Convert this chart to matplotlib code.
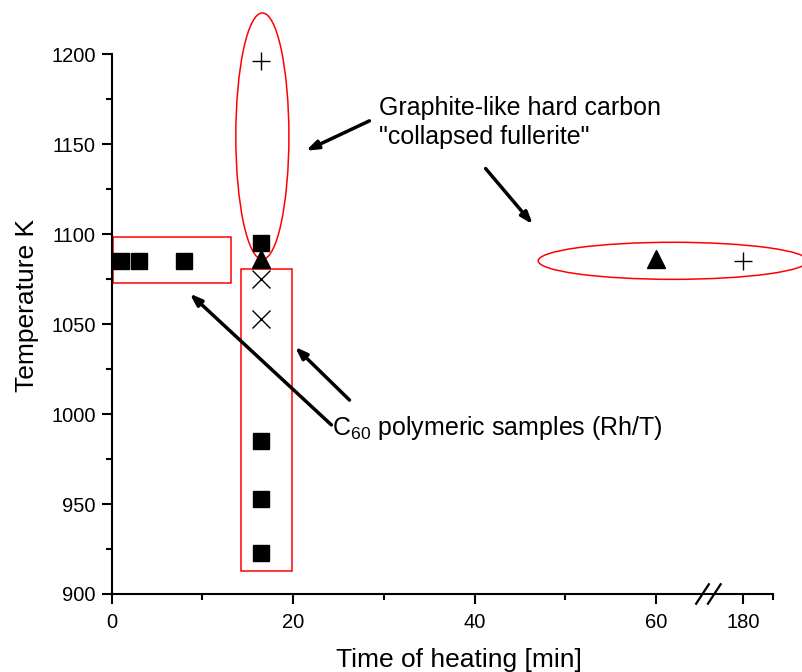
import numpy as np
import matplotlib
matplotlib.use("Agg")
import matplotlib.pyplot as plt
from matplotlib.patches import Ellipse, Rectangle

plt.rcParams['font.family'] = ['Liberation Sans', 'DejaVu Sans']
plt.rcParams['mathtext.fontset'] = 'custom'
plt.rcParams['mathtext.rm'] = 'Liberation Sans'
plt.rcParams['mathtext.it'] = 'Liberation Sans:italic'

# ---- data (time of heating [min], temperature [K]) ----
sq_time = [1, 3, 8, 16.5, 16.5, 16.5, 16.5]
sq_temp = [1085, 1085, 1085, 1095, 985, 953, 923]
tri_time = [16.5, 60]
tri_temp = [1086, 1086]
x_time = [16.5, 16.5]
x_temp = [1075, 1053]
plus_time = [16.5, 180]
plus_temp = [1196, 1085]

xtick_values = [0, 20, 40, 60, 180]
xtick_labels = ['0', '20', '40', '60', '180']
ytick_values = [900, 950, 1000, 1050, 1100, 1150, 1200]

BREAK_POS_180 = 69.6  # axis position where 180 min is drawn (after the break)


def tpos(t):
    t = np.asarray(t, dtype=float)
    return np.where(t > 65, BREAK_POS_180 + (t - 180), t)


fig = plt.figure(figsize=(8.02, 6.72), dpi=100)
ax = fig.add_axes([0.1393, 0.1161, 0.8249, 0.8031])

ax.plot(tpos(sq_time), sq_temp, 's', color='black', ms=11, clip_on=False, zorder=5)
ax.plot(tpos(tri_time), tri_temp, '^', color='black', ms=13, clip_on=False, zorder=5)
ax.plot(tpos(x_time), x_temp, 'x', color='black', ms=13, mew=1.0, clip_on=False, zorder=5)
ax.plot(tpos(plus_time), plus_temp, '+', color='black', ms=13, mew=1.0, clip_on=False, zorder=5)

ax.set_xlim(0, 72.9)
ax.set_ylim(900, 1200)
ax.set_xticks(tpos(xtick_values))
ax.set_xticklabels(xtick_labels)
ax.set_xticks([10, 30, 50, 72.9], minor=True)
ax.set_yticks(ytick_values)
ax.set_yticks(np.arange(925, 1200, 50), minor=True)

for s in ['top', 'right']:
    ax.spines[s].set_visible(False)
for s in ['left', 'bottom']:
    ax.spines[s].set_linewidth(1.5)
ax.tick_params(which='major', direction='out', length=7.5, width=1.5, labelsize=14.5)
ax.tick_params(axis='x', which='major', pad=6)
ax.tick_params(axis='y', which='major', pad=4)
ax.tick_params(which='minor', direction='out', length=4, width=1.5)

ax.set_xlabel('Time of heating [min]', fontsize=19)
ax.set_ylabel('Temperature K', fontsize=19)
ax.xaxis.set_label_coords(0.525, -0.10)
ax.yaxis.set_label_coords(-0.11, 0.535)

# axis break marks
for xb in [65.1, 66.4]:
    ax.plot([xb - 0.7, xb + 0.7], [-0.018, 0.018], color='black', lw=1.6,
            transform=ax.get_xaxis_transform(), clip_on=False, zorder=6)

# red outlines
red = '#ff0000'
ax.add_patch(Rectangle((0.15, 1072.6), 12.95, 25.7, fill=False, ec=red, lw=1.1, clip_on=False))
ax.add_patch(Rectangle((14.3, 912.5), 5.6, 167.9, fill=False, ec=red, lw=1.1, clip_on=False))
ax.add_patch(Ellipse((16.6, 1154.5), 5.85, 137, fill=False, ec=red, lw=1.1, clip_on=False))
ax.add_patch(Ellipse((61.85, 1085.2), 29.7, 20.6, fill=False, ec=red, lw=1.1, clip_on=False))

# arrows
arrows = [((28.4, 1163.0), (21.4, 1146.4)),
          ((41.2, 1136.5), (46.4, 1105.5)),
          ((24.2, 994.0), (8.6, 1067.0)),
          ((26.2, 1007.8), (20.2, 1037.4))]
for (x0, y0), (x1, y1) in arrows:
    ax.annotate('', xy=(x1, y1), xytext=(x0, y0),
                arrowprops=dict(arrowstyle='-|>,head_length=0.7,head_width=0.25',
                                color='black', lw=2.5, shrinkA=0, shrinkB=0),
                annotation_clip=False)

ax.text(29.5, 1166.1, 'Graphite-like hard carbon', fontsize=18, va='baseline', ha='left')
ax.text(29.5, 1150.3, '"collapsed fullerite"', fontsize=18, va='baseline', ha='left')
ax.text(24.3, 988.5, r'C$_{60}$ polymeric samples (Rh/T)', fontsize=18, va='baseline', ha='left')

fig.savefig('out.png', dpi=100)
